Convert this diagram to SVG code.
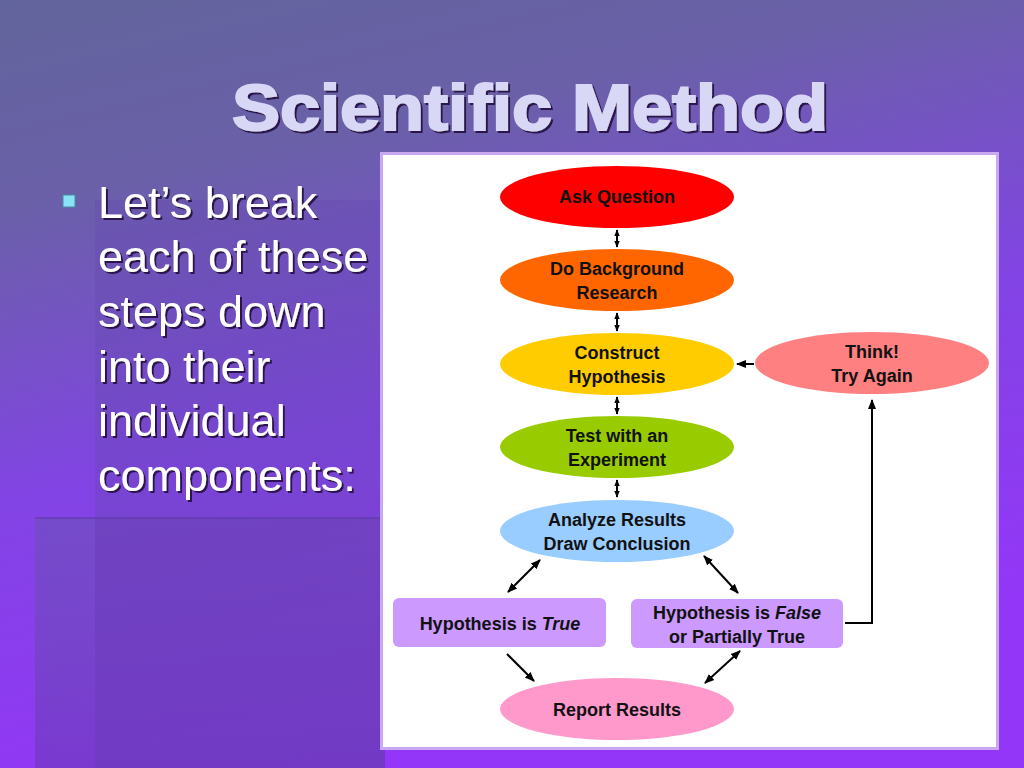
<svg xmlns="http://www.w3.org/2000/svg" width="1024" height="768" viewBox="0 0 1024 768">
<defs>
<linearGradient id="bg" x1="0" y1="0" x2="0.3" y2="1">
<stop offset="0" stop-color="#62649c"/>
<stop offset="0.25" stop-color="#6a60a8"/>
<stop offset="0.6" stop-color="#8244e4"/>
<stop offset="1" stop-color="#9436f8"/>
</linearGradient>
<linearGradient id="pane" x1="0" y1="0" x2="0" y2="1">
<stop offset="0" stop-color="#5a5a98" stop-opacity="0.35"/>
<stop offset="1" stop-color="#6a3ab8" stop-opacity="0.6"/>
</linearGradient>
<marker id="ah" viewBox="0 0 10 10" refX="9" refY="5" markerWidth="10" markerHeight="10" markerUnits="userSpaceOnUse" orient="auto-start-reverse">
<path d="M0,1 L10,5 L0,9 z" fill="#000"/>
</marker>
<marker id="ahs" viewBox="0 0 10 10" refX="9" refY="5" markerWidth="7" markerHeight="7" markerUnits="userSpaceOnUse" orient="auto-start-reverse">
<path d="M0,1 L10,5 L0,9 z" fill="#000"/>
</marker>
<filter id="sh" x="-5%" y="-5%" width="110%" height="120%">
<feDropShadow dx="2" dy="2" stdDeviation="0.6" flood-color="#201040" flood-opacity="0.9"/>
</filter>
</defs>
<style>
.lbl{font-family:"Liberation Sans",Arial,sans-serif;font-weight:bold;font-size:18px;fill:#111;text-anchor:middle}
.node{stroke:none}
.c{stroke:#000;stroke-width:2;fill:none}
.bul{font-family:"Liberation Sans",Arial,sans-serif;font-size:45px;fill:#ffffff}
</style>
<rect x="0" y="0" width="1024" height="768" fill="url(#bg)"/>
<rect x="95" y="200" width="290" height="318" fill="#6448b0" opacity="0.35"/>
<rect x="35" y="518" width="350" height="250" fill="url(#pane)"/>
<rect x="95" y="518" width="290" height="250" fill="#6a3cb8" opacity="0.5"/>
<line x1="35" y1="518" x2="385" y2="518" stroke="#5a3aa0" stroke-width="2" opacity="0.5"/>
<text x="530" y="130" text-anchor="middle" font-family="'Liberation Sans',Arial,sans-serif" font-weight="bold" font-size="64" fill="#d8d8f6" stroke="#d8d8f6" stroke-width="2" textLength="596" lengthAdjust="spacingAndGlyphs" filter="url(#sh)">Scientific Method</text>
<rect x="63" y="195" width="12" height="12" fill="#88e4f4" stroke="#4a8aa0" stroke-width="1"/>
<g filter="url(#sh)">
<text class="bul" x="98" y="218">Let’s break</text>
<text class="bul" x="98" y="272">each of these</text>
<text class="bul" x="98" y="327">steps down</text>
<text class="bul" x="98" y="382">into their</text>
<text class="bul" x="98" y="436">individual</text>
<text class="bul" x="98" y="491">components:</text>
</g>
<rect x="381.5" y="153.5" width="616" height="595" fill="#ffffff" stroke="#c8a8f0" stroke-width="3"/>
<g id="ask"><ellipse class="node" cx="617" cy="197" rx="117" ry="31" fill="#ff0000"/><text class="lbl" x="617" y="203">Ask Question</text></g>
<g id="research"><ellipse class="node" cx="617" cy="280" rx="117" ry="31" fill="#ff6600"/><text class="lbl" x="617" y="275">Do Background</text><text class="lbl" x="617" y="299">Research</text></g>
<g id="hypothesis"><ellipse class="node" cx="617" cy="364" rx="117" ry="31" fill="#ffcc00"/><text class="lbl" x="617" y="359">Construct</text><text class="lbl" x="617" y="383">Hypothesis</text></g>
<g id="experiment"><ellipse class="node" cx="617" cy="447" rx="117" ry="31" fill="#99cc00"/><text class="lbl" x="617" y="442">Test with an</text><text class="lbl" x="617" y="466">Experiment</text></g>
<g id="analyze"><ellipse class="node" cx="617" cy="531" rx="117" ry="31" fill="#99ccff"/><text class="lbl" x="617" y="526">Analyze Results</text><text class="lbl" x="617" y="550">Draw Conclusion</text></g>
<g id="report"><ellipse class="node" cx="617" cy="709" rx="117" ry="31" fill="#ff99cc"/><text class="lbl" x="617" y="716">Report Results</text></g>
<g id="think"><ellipse class="node" cx="872" cy="363" rx="117" ry="31" fill="#ff8080"/><text class="lbl" x="872" y="358">Think!</text><text class="lbl" x="872" y="382">Try Again</text></g>
<g id="true"><rect class="node" x="393" y="598" width="213" height="49" rx="6" fill="#cc99ff"/><text class="lbl" x="500" y="630">Hypothesis is <tspan font-style="italic">True</tspan></text></g>
<g id="false"><rect class="node" x="631" y="599" width="212" height="49" rx="6" fill="#cc99ff"/><text class="lbl" x="737" y="619">Hypothesis is <tspan font-style="italic">False</tspan></text><text class="lbl" x="737" y="643">or Partially True</text></g>
<g id="connectors">
<line class="c" x1="617" y1="230" x2="617" y2="247" stroke-width="1.5" marker-start="url(#ahs)" marker-end="url(#ahs)"/>
<line class="c" x1="617" y1="313" x2="617" y2="331" stroke-width="1.5" marker-start="url(#ahs)" marker-end="url(#ahs)"/>
<line class="c" x1="617" y1="397" x2="617" y2="414" stroke-width="1.5" marker-start="url(#ahs)" marker-end="url(#ahs)"/>
<line class="c" x1="617" y1="480" x2="617" y2="497" stroke-width="1.5" marker-start="url(#ahs)" marker-end="url(#ahs)"/>
<line class="c" x1="754" y1="364" x2="737" y2="364" marker-end="url(#ah)"/>
<polyline class="c" points="845,623 872,623 872,400" marker-end="url(#ah)"/>
<line class="c" x1="508" y1="592" x2="540" y2="560" marker-start="url(#ah)" marker-end="url(#ah)"/>
<line class="c" x1="704" y1="556" x2="738" y2="593" marker-start="url(#ah)" marker-end="url(#ah)"/>
<line class="c" x1="507" y1="654" x2="534" y2="681" marker-end="url(#ah)"/>
<line class="c" x1="705" y1="683" x2="740" y2="651" marker-start="url(#ah)" marker-end="url(#ah)"/>
</g>
</svg>
